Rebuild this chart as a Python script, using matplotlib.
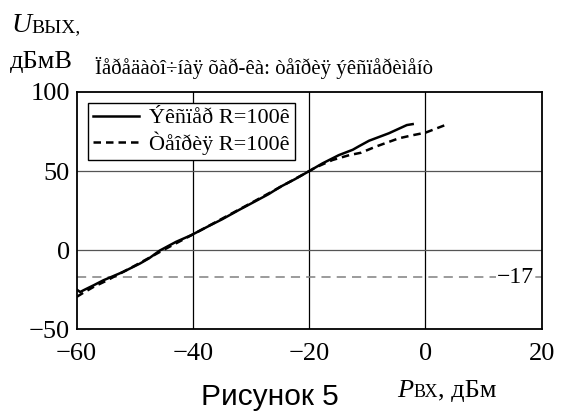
import matplotlib
matplotlib.use("Agg")
from matplotlib import pyplot as plt
import numpy as np

plt.rcParams['font.family'] = ['Liberation Serif', 'DejaVu Serif']

W, H = 563, 416

# экспериментальная кривая (сплошная)
exp_x = [-60, -59.4, -58.6, -57.1, -55.4, -54.3, -52.0, -49.1, -47.5, -45.7, -42.9,
         -40.3, -37.0, -35.0, -32.0, -30.0, -27.0, -25.0, -22.5, -20.0, -17.7,
         -14.9, -12.5, -11.4, -9.7, -6.3, -3.2, -2.2]
exp_y = [-24.9, -26.4, -24.9, -22.2, -19.0, -17.3, -13.7, -8.4, -5.0, -0.2, 5.3,
         9.5, 15.8, 19.5, 25.6, 29.5, 35.4, 40.0, 44.8, 50.0, 54.9,
         60.1, 63.5, 65.8, 69.2, 73.9, 79.1, 79.7]

# теоретическая кривая (пунктир)
teo_x = [-60, -58.9, -57.0, -55.0, -50.0, -45.0, -40.0, -30.0, -20.0, -18.9,
         -16.0, -13.1, -11.1, -8.6, -4.6, -2.3, 0.0, 3.4]
teo_y = [-29.5, -27.0, -23.0, -19.5, -9.8, 0.3, 10.0, 29.8, 50.0, 52.3,
         57.0, 60.1, 61.6, 65.4, 70.7, 72.6, 74.3, 79.1]

level = -17
x_ticks = [-60, -40, -20, 0, 20]
y_ticks = [-50, 0, 50, 100]

title = "Ïåðåäàòî÷íàÿ õàð-êà: òåîðèÿ ýêñïåðèìåíò"
leg_labels = ["Ýêñïåð R=100ê", "Òåîðèÿ R=100ê"]


def px(x, y):
    return x / W, 1 - y / H


fig = plt.figure(figsize=(W / 100, H / 100), dpi=100)
ax = fig.add_axes([76.7 / W, 1 - 329.3 / H, 465 / W, 237.3 / H])

for v in [-40, -20, 0]:
    ax.axvline(v, color='black', lw=0.9, zorder=1)
for v in [0, 50]:
    ax.axhline(v, color='#555555', lw=0.9, zorder=1)

ax.axhline(level, color='#808080', lw=1.1, ls=(0, (6, 4)), zorder=1)
ax.text(15.4, level, "\u221217", ha='center', va='center', fontsize=17,
        bbox=dict(facecolor='white', edgecolor='none', pad=0.5), zorder=2)

ax.plot(exp_x, exp_y, color='black', lw=1.8, label=leg_labels[0], zorder=3)
ax.plot(teo_x, teo_y, color='black', lw=1.8, ls=(0, (3, 2)), label=leg_labels[1], zorder=3)

ax.set_xlim(-60, 20)
ax.set_ylim(-50, 100)
ax.set_xticks(x_ticks)
ax.set_yticks(y_ticks)
ax.set_xticklabels([str(t).replace('-', '\u2212') for t in x_ticks])
ax.set_yticklabels([str(t).replace('-', '\u2212') for t in y_ticks])
ax.tick_params(length=0, labelsize=19)
ax.tick_params(axis='x', pad=10)
ax.tick_params(axis='y', pad=5)
for s in ax.spines.values():
    s.set_linewidth(1.3)

leg = ax.legend(loc='upper left', bbox_to_anchor=(0.025, 0.952), borderaxespad=0,
                fontsize=16, fancybox=False, framealpha=1, edgecolor='black',
                handlelength=2.1, handletextpad=0.45, borderpad=0.2, labelspacing=0.15)
leg.get_frame().set_linewidth(1.0)

# подписи осей
fig.text(*px(11, 32), "U", fontsize=20, style='italic', va='baseline')
fig.text(*px(31, 32), "ВЫХ,", fontsize=14, va='baseline')
fig.text(*px(10, 68), "дБмВ", fontsize=19, va='baseline')
fig.text(*px(95, 74), title, fontsize=15, va='baseline')

fig.text(*px(397, 397), "P", fontsize=19, style='italic', va='baseline')
fig.text(*px(414, 397), "ВХ", fontsize=13, va='baseline')
fig.text(*px(438, 397), ", дБм", fontsize=19, va='baseline')

fig.text(*px(270, 405), "Рисунок 5", fontsize=21.5, ha='center', va='baseline',
         family=['Liberation Sans', 'DejaVu Sans'])

fig.savefig("out.png", dpi=100)
